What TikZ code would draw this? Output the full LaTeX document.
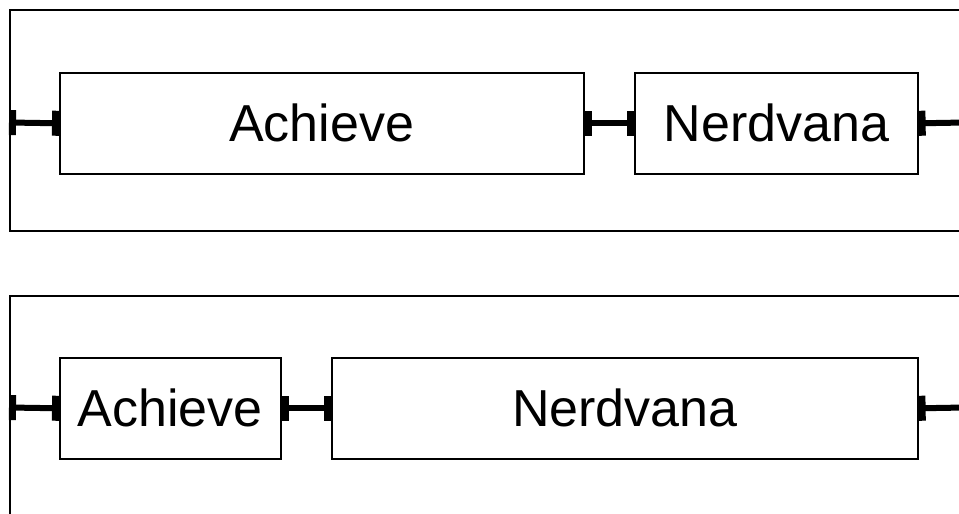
\documentclass[tikz,border=0pt]{standalone}
\usepackage{fontspec}
\setmainfont{Liberation Sans}
\usetikzlibrary{arrows.meta}
\begin{document}
\begin{tikzpicture}[x=1pt,y=-1pt,
  blk/.style={draw,line width=1.6pt,minimum height=101pt,inner sep=0pt,
    font=\fontsize{52}{60}\selectfont,anchor=north west},
  frame/.style={line width=2pt},
  bartip/.tip={Rectangle[length=7pt,width=25pt]},
  lnk/.style={line width=6pt,bartip-bartip},
  lnkopen/.style={line width=6pt,bartip-}
]
\clip (0,0) rectangle (959,514);
\fill[white] (0,0) rectangle (959,514);
% top frame
\draw[frame] (965,10) -- (10,10) -- (10,231) -- (965,231);
\node[blk,minimum width=524pt] (a1) at (59,72) {Achieve};
\node[blk,minimum width=283pt] (n1) at (634,72) {Nerdvana};
\coordinate (l1) at (9,122.5);
\coordinate (r1) at (965,122.5);
\draw[lnk] (l1) -- (a1.west);
\draw[lnk] (a1.east) -- (n1.west);
\draw[lnkopen] (n1.east) -- (r1);
% bottom frame
\draw[frame] (965,296) -- (10,296) -- (10,520);
\node[blk,minimum width=221pt] (a2) at (59,357) {Achieve};
\node[blk,minimum width=586pt] (n2) at (331,357) {Nerdvana};
\coordinate (l2) at (9,407.5);
\coordinate (r2) at (965,407.5);
\draw[lnk] (l2) -- (a2.west);
\draw[lnk] (a2.east) -- (n2.west);
\draw[lnkopen] (n2.east) -- (r2);
\end{tikzpicture}
\end{document}
